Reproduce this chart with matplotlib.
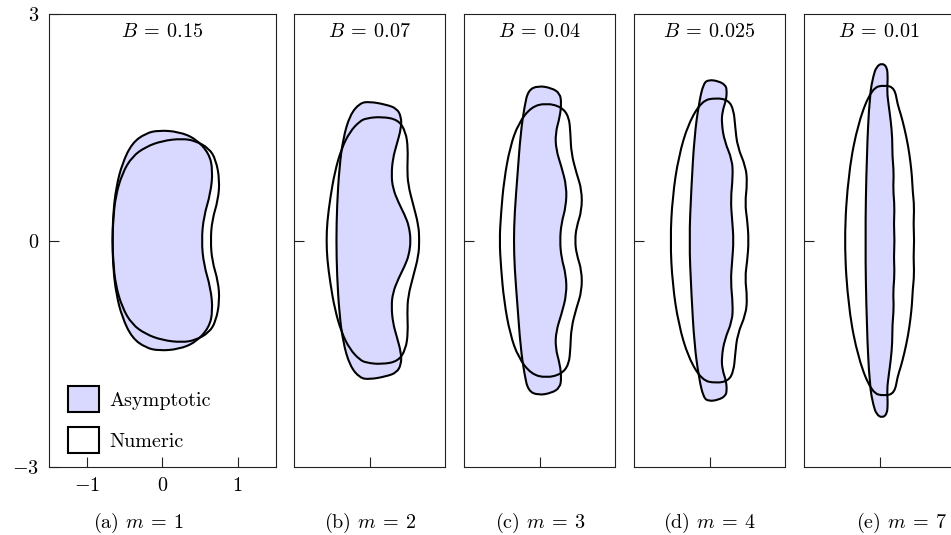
import numpy as np
import matplotlib
matplotlib.use("Agg")
import matplotlib.pyplot as plt
from matplotlib.path import Path
from matplotlib.patches import PathPatch

# ---------------- data ----------------
panel_labels = [r"(a) $m \:=\: 1$", r"(b) $m \:=\: 2$", r"(c) $m \:=\: 3$", r"(d) $m \:=\: 4$", r"(e) $m \:=\: 7$"]
b_labels = [r"$B \:=\: 0.15$", r"$B \:=\: 0.07$", r"$B \:=\: 0.04$", r"$B \:=\: 0.025$", r"$B \:=\: 0.01$"]
legend_labels = ["Asymptotic", "Numeric"]

asym_a_x = [0.52, 0.55, 0.64, 0.67, 0.62, 0.44, 0.22, -0.045, -0.22, -0.40, -0.53, -0.61, -0.65, -0.66,
            -0.65, -0.61, -0.53, -0.40, -0.22, -0.045, 0.22, 0.44, 0.62, 0.67, 0.64, 0.55]
asym_a_y = [0.00, 0.32, 0.625, 0.93, 1.155, 1.35, 1.44, 1.46, 1.42, 1.29, 1.02, 0.71, 0.36, 0.00,
            -0.36, -0.71, -1.02, -1.29, -1.42, -1.46, -1.44, -1.35, -1.155, -0.93, -0.625, -0.32]
num_a_x = [0.64, 0.66, 0.74, 0.76, 0.71, 0.62, 0.44, 0.26, 0.00, -0.22, -0.40, -0.53, -0.62, -0.65, -0.66,
           -0.65, -0.62, -0.53, -0.40, -0.22, 0.00, 0.26, 0.44, 0.62, 0.71, 0.76, 0.74, 0.66]
num_a_y = [0.00, 0.27, 0.54, 0.80, 1.07, 1.22, 1.32, 1.35, 1.32, 1.24, 1.11, 0.89, 0.58, 0.27, 0.00,
           -0.27, -0.58, -0.89, -1.11, -1.24, -1.32, -1.35, -1.32, -1.22, -1.07, -0.80, -0.54, -0.27]

asym_b_x = [0.545, 0.53, 0.49, 0.38, 0.31, 0.29, 0.31, 0.36, 0.42, 0.42, 0.36, 0.22, 0.00, -0.13, -0.26, -0.35, -0.40, -0.43, -0.44,
            -0.43, -0.40, -0.35, -0.26, -0.13, 0.00, 0.22, 0.36, 0.42, 0.42, 0.36, 0.31, 0.29, 0.31, 0.38, 0.49, 0.53]
asym_b_y = [0.00, 0.15, 0.29, 0.51, 0.69, 0.87, 1.09, 1.27, 1.49, 1.64, 1.75, 1.80, 1.84, 1.82, 1.66, 1.35, 0.96, 0.47, 0.00,
            -0.47, -0.96, -1.35, -1.66, -1.82, -1.84, -1.80, -1.75, -1.64, -1.49, -1.27, -1.09, -0.87, -0.69, -0.51, -0.29, -0.15]
num_b_x = [0.66, 0.65, 0.58, 0.51, 0.50, 0.51, 0.48, 0.38, 0.16, -0.04, -0.13, -0.26, -0.37, -0.46, -0.52, -0.56, -0.57,
           -0.56, -0.52, -0.46, -0.37, -0.26, -0.13, -0.04, 0.16, 0.38, 0.48, 0.51, 0.50, 0.51, 0.58, 0.65]
num_b_y = [0.00, 0.20, 0.47, 0.74, 0.96, 1.22, 1.44, 1.60, 1.64, 1.62, 1.58, 1.44, 1.22, 0.91, 0.56, 0.25, 0.00,
           -0.25, -0.56, -0.91, -1.22, -1.44, -1.58, -1.62, -1.64, -1.60, -1.44, -1.22, -0.96, -0.74, -0.47, -0.20]

asym_c_x = [0.27, 0.29, 0.35, 0.36, 0.29, 0.22, 0.21, 0.27, 0.29, 0.27, 0.16, -0.02, -0.15, -0.20, -0.25, -0.29, -0.33, -0.34,
            -0.33, -0.29, -0.25, -0.20, -0.15, -0.02, 0.16, 0.27, 0.29, 0.27, 0.21, 0.22, 0.29, 0.36, 0.35, 0.29]
asym_c_y = [0.00, 0.23, 0.45, 0.71, 0.98, 1.20, 1.42, 1.64, 1.82, 1.95, 2.02, 2.05, 1.99, 1.77, 1.42, 0.89, 0.36, 0.00,
            -0.36, -0.89, -1.42, -1.77, -1.99, -2.05, -2.02, -1.95, -1.82, -1.64, -1.42, -1.20, -0.98, -0.71, -0.45, -0.23]
num_c_x = [0.47, 0.49, 0.56, 0.56, 0.49, 0.42, 0.41, 0.39, 0.29, 0.09, -0.11, -0.28, -0.39, -0.47, -0.51, -0.53,
           -0.51, -0.47, -0.39, -0.28, -0.11, 0.09, 0.29, 0.39, 0.41, 0.42, 0.49, 0.56, 0.56, 0.49]
num_c_y = [0.00, 0.18, 0.40, 0.67, 0.89, 1.16, 1.42, 1.64, 1.77, 1.82, 1.77, 1.55, 1.24, 0.80, 0.36, 0.00,
           -0.36, -0.80, -1.24, -1.55, -1.77, -1.82, -1.77, -1.64, -1.42, -1.16, -0.89, -0.67, -0.40, -0.18]

asym_d_x = [0.32, 0.30, 0.28, 0.31, 0.30, 0.20, 0.16, 0.17, 0.22, 0.23, 0.21, 0.12, -0.01, -0.08, -0.14, -0.20, -0.24, -0.27,
            -0.24, -0.20, -0.14, -0.08, -0.01, 0.12, 0.21, 0.23, 0.22, 0.17, 0.16, 0.20, 0.30, 0.31, 0.28, 0.30]
asym_d_y = [0.00, 0.27, 0.54, 0.85, 1.07, 1.31, 1.55, 1.71, 1.86, 1.99, 2.06, 2.11, 2.13, 2.08, 1.82, 1.38, 0.71, 0.00,
            -0.71, -1.38, -1.82, -2.08, -2.13, -2.11, -2.06, -1.99, -1.86, -1.71, -1.55, -1.31, -1.07, -0.85, -0.54, -0.27]
num_d_x = [0.52, 0.50, 0.47, 0.50, 0.48, 0.37, 0.34, 0.32, 0.25, 0.08, -0.10, -0.28, -0.41, -0.49, -0.52,
           -0.49, -0.41, -0.28, -0.10, 0.08, 0.25, 0.32, 0.34, 0.37, 0.48, 0.50, 0.47, 0.50]
num_d_y = [0.00, 0.27, 0.49, 0.76, 0.98, 1.24, 1.51, 1.73, 1.86, 1.89, 1.85, 1.55, 1.11, 0.58, 0.00,
           -0.58, -1.11, -1.55, -1.85, -1.89, -1.86, -1.73, -1.51, -1.24, -0.98, -0.76, -0.49, -0.27]

asym_e_x = [0.20, 0.19, 0.20, 0.18, 0.19, 0.17, 0.17, 0.15, 0.12, 0.10, 0.11, 0.10, 0.03, -0.04, -0.08, -0.13, -0.17, -0.19,
            -0.17, -0.13, -0.08, -0.04, 0.03, 0.10, 0.11, 0.10, 0.12, 0.15, 0.17, 0.17, 0.19, 0.18, 0.20, 0.19]
asym_e_y = [0.00, 0.22, 0.45, 0.68, 0.90, 1.12, 1.35, 1.58, 1.80, 1.97, 2.15, 2.30, 2.35, 2.30, 2.19, 1.93, 1.13, 0.00,
            -1.13, -1.93, -2.19, -2.30, -2.35, -2.30, -2.15, -1.97, -1.80, -1.58, -1.35, -1.12, -0.90, -0.68, -0.45, -0.22]
num_e_x = [0.46, 0.45, 0.46, 0.44, 0.43, 0.41, 0.38, 0.33, 0.28, 0.24, 0.20, 0.07, -0.10, -0.28, -0.41, -0.47,
           -0.41, -0.28, -0.10, 0.07, 0.20, 0.24, 0.28, 0.33, 0.38, 0.41, 0.43, 0.44, 0.46, 0.45]
num_e_y = [0.00, 0.22, 0.45, 0.65, 0.85, 1.04, 1.25, 1.49, 1.68, 1.80, 2.02, 2.06, 2.02, 1.57, 0.91, 0.00,
           -0.91, -1.57, -2.02, -2.06, -2.02, -1.80, -1.68, -1.49, -1.25, -1.04, -0.85, -0.65, -0.45, -0.22]

asym_shapes = [(asym_a_x, asym_a_y), (asym_b_x, asym_b_y), (asym_c_x, asym_c_y), (asym_d_x, asym_d_y), (asym_e_x, asym_e_y)]
num_shapes = [(num_a_x, num_a_y), (num_b_x, num_b_y), (num_c_x, num_c_y), (num_d_x, num_d_y), (num_e_x, num_e_y)]

# ---------------- style ----------------
plt.rcParams.update({
    "font.family": "serif",
    "font.serif": ["cmr10"],
    "mathtext.fontset": "cm",
    "axes.unicode_minus": False,
    "font.size": 14.5,
})
FILL = "#D9D9FF"
LW = 1.5

W, H = 951, 535
fig = plt.figure(figsize=(W / 100, H / 100), dpi=100)


def smooth_closed(xs, ys):
    P = np.column_stack([xs, ys])
    mids = (P + np.roll(P, -1, axis=0)) / 2
    verts = [mids[-1]]
    codes = [Path.MOVETO]
    for i in range(len(P)):
        verts += [P[i], mids[i]]
        codes += [Path.CURVE3, Path.CURVE3]
    verts.append(mids[-1])
    codes.append(Path.CLOSEPOLY)
    return Path(verts, codes)


top_px, bot_px = 14, 467
ppu = (bot_px - top_px) / 6.0
lefts = [49, 294, 464, 634, 804]
xlims = [(-1.5, 1.5), (-1, 1), (-1, 1), (-1, 1), (-1, 1)]
cap_x = [139, 370, 540, 709.5, 901.5]

for k in range(5):
    x0, x1 = xlims[k]
    wpx = (x1 - x0) * ppu
    ax = fig.add_axes([lefts[k] / W, (H - bot_px) / H, wpx / W, (bot_px - top_px) / H])
    ax.set_xlim(x0, x1)
    ax.set_ylim(-3, 3)
    for s in ax.spines.values():
        s.set_linewidth(0.8)
        s.set_color("#222222")
    ax.tick_params(direction="in", length=7, width=0.8, pad=7, colors="#222222",
                   labelcolor="black", labelsize=14.5)
    ax.tick_params(top=False, right=False)

    ax_, ay_ = asym_shapes[k]
    nx_, ny_ = num_shapes[k]
    pa = PathPatch(smooth_closed(ax_, ay_), facecolor=FILL, edgecolor="black", lw=LW, zorder=2)
    pn = PathPatch(smooth_closed(nx_, ny_), facecolor="none", edgecolor="black", lw=LW, zorder=3)
    ax.add_patch(pa)
    ax.add_patch(pn)

    ax.text(0, 2.70, b_labels[k], ha="center", va="baseline", fontsize=14.5)

    if k == 0:
        ax.set_xticks([-1, 0, 1])
        ax.set_xticklabels(["$-1$", "$0$", "$1$"])
        ax.set_yticks([-3, 0, 3])
        ax.set_yticklabels(["$-3$", "$0$", "$3$"])
        ax.legend(handles=[pa, pn], labels=legend_labels, loc="lower left",
                  bbox_to_anchor=(0.0825, 0.031), borderaxespad=0, borderpad=0,
                  frameon=False, handlelength=1.55, handleheight=1.6,
                  handletextpad=0.5, labelspacing=0.75, fontsize=14.5)
    else:
        ax.set_xticks([0])
        ax.set_xticklabels([])
        ax.set_yticks([0])
        ax.set_yticklabels([])

    fig.text(cap_x[k] / W, 7 / H, panel_labels[k], ha="center", va="baseline", fontsize=14.5)

fig.savefig("out.png", dpi=100)
